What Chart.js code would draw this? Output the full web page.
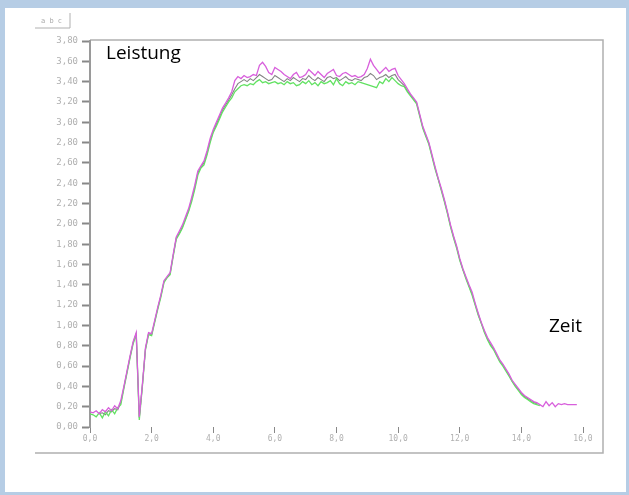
<!DOCTYPE html>
<html>
<head>
<meta charset="utf-8">
<script src="https://cdn.jsdelivr.net/npm/chart.js@4"></script>
<style>
  html, body { margin: 0; padding: 0; background: #fff; }
  canvas { display: block; }
</style>
</head>
<body>
<canvas id="myChart" width="629" height="495"></canvas>
<script>
// time axis (Zeit)
var zeit = [
  0.0,0.1,0.2,0.3,0.4,0.5,0.6,0.7,0.8,0.9,
  1.0,1.1,1.2,1.3,1.4,1.5,1.6,1.7,1.8,1.9,
  2.0,2.1,2.2,2.3,2.4,2.5,2.6,2.7,2.8,2.9,
  3.0,3.1,3.2,3.3,3.4,3.5,3.6,3.7,3.8,3.9,
  4.0,4.1,4.2,4.3,4.4,4.5,4.6,4.7,4.8,4.9,
  5.0,5.1,5.2,5.3,5.4,5.5,5.6,5.7,5.8,5.9,
  6.0,6.1,6.2,6.3,6.4,6.5,6.6,6.7,6.8,6.9,
  7.0,7.1,7.2,7.3,7.4,7.5,7.6,7.7,7.8,7.9,
  8.0,8.1,8.2,8.3,8.4,8.5,8.6,8.7,8.8,8.9,
  9.0,9.1,9.2,9.3,9.4,9.5,9.6,9.7,9.8,9.9,
  10.0,10.1,10.2,10.3,10.4,10.5,10.6,10.7,10.8,10.9,
  11.0,11.1,11.2,11.3,11.4,11.5,11.6,11.7,11.8,11.9,
  12.0,12.1,12.2,12.3,12.4,12.5,12.6,12.7,12.8,12.9,
  13.0,13.1,13.2,13.3,13.4,13.5,13.6,13.7,13.8,13.9,
  14.0,14.1,14.2,14.3,14.4,14.5,14.6,14.7,14.8,14.9,
  15.0,15.1,15.2,15.3,15.4,15.5,15.6,15.7,15.8
];

// magenta trace
var leistungMagenta = [
  0.15,0.14,0.16,0.13,0.17,0.15,0.19,0.16,0.21,0.18,
  0.26,0.40,0.55,0.70,0.84,0.93,0.10,0.42,0.78,0.93,
  0.92,1.05,1.18,1.30,1.44,1.48,1.52,1.70,1.87,1.93,
  1.99,2.07,2.15,2.26,2.38,2.52,2.57,2.62,2.72,2.84,
  2.93,3.00,3.07,3.14,3.19,3.24,3.30,3.41,3.45,3.43,
  3.46,3.44,3.45,3.47,3.46,3.56,3.59,3.55,3.49,3.47,
  3.54,3.52,3.50,3.47,3.45,3.43,3.47,3.49,3.44,3.45,
  3.47,3.52,3.49,3.46,3.50,3.47,3.44,3.48,3.50,3.52,
  3.46,3.45,3.48,3.49,3.47,3.45,3.46,3.44,3.45,3.47,
  3.53,3.62,3.56,3.52,3.48,3.51,3.54,3.50,3.52,3.53,
  3.46,3.42,3.38,3.33,3.28,3.24,3.20,3.08,2.96,2.88,
  2.80,2.68,2.56,2.45,2.35,2.24,2.12,1.99,1.88,1.78,
  1.66,1.56,1.48,1.40,1.33,1.22,1.12,1.03,0.95,0.88,
  0.83,0.78,0.72,0.66,0.62,0.57,0.52,0.46,0.42,0.38,
  0.34,0.31,0.29,0.27,0.25,0.24,0.22,0.20,0.25,0.21,
  0.24,0.20,0.23,0.22,0.23,0.22,0.22,0.22,0.22
];

// green trace
var leistungGruen = [
  0.13,0.12,0.10,0.14,0.09,0.15,0.11,0.17,0.13,0.19,
  0.22,0.38,0.53,0.68,0.82,0.91,0.07,0.40,0.76,0.91,
  0.90,1.03,1.16,1.28,1.42,1.47,1.50,1.68,1.85,1.90,
  1.96,2.04,2.12,2.22,2.34,2.48,2.55,2.58,2.68,2.80,
  2.90,2.96,3.03,3.10,3.15,3.20,3.24,3.30,3.33,3.36,
  3.37,3.36,3.38,3.37,3.40,3.42,3.39,3.40,3.38,3.39,
  3.40,3.38,3.39,3.37,3.40,3.38,3.39,3.36,3.37,3.40,
  3.38,3.41,3.37,3.39,3.36,3.40,3.38,3.39,3.41,3.37,
  3.43,3.38,3.36,3.40,3.38,3.39,3.37,3.40,3.39,3.38,
  3.37,3.36,3.35,3.34,3.40,3.38,3.43,3.40,3.44,3.41,
  3.38,3.36,3.35,3.30,3.26,3.22,3.18,3.06,2.94,2.86,
  2.78,2.66,2.54,2.44,2.33,2.22,2.10,1.97,1.86,1.76,
  1.64,1.55,1.46,1.38,1.30,1.20,1.10,1.02,0.93,0.86,
  0.80,0.76,0.70,0.64,0.60,0.55,0.50,0.45,0.40,0.36,
  0.32,0.29,0.27,0.25,0.23,0.22,0.21
];

// dark grey trace
var leistungGrau = [
  null,null,null,0.13,0.14,0.12,0.16,0.15,0.18,0.17,
  0.24,0.39,0.54,0.69,0.83,0.92,0.09,0.41,0.77,0.92,
  0.91,1.04,1.17,1.29,1.43,1.47,1.51,1.69,1.86,1.91,
  1.97,2.05,2.13,2.24,2.36,2.50,2.56,2.60,2.70,2.82,
  2.91,2.98,3.05,3.12,3.17,3.22,3.27,3.33,3.38,3.40,
  3.42,3.40,3.43,3.41,3.44,3.47,3.45,3.43,3.41,3.42,
  3.46,3.44,3.42,3.40,3.43,3.41,3.44,3.42,3.40,3.43,
  3.42,3.46,3.43,3.41,3.44,3.42,3.40,3.44,3.45,3.43,
  3.44,3.41,3.43,3.45,3.42,3.41,3.43,3.42,3.41,3.44,
  3.45,3.48,3.46,3.42,3.44,3.45,3.47,3.44,3.46,3.47,
  3.42,3.39,3.36,3.31,3.27,3.23,3.19,3.07,2.95,2.87,
  2.79,2.67,2.55,2.44,2.34,2.23,2.11,1.98,1.87,1.77,
  1.65,1.55,1.47,1.39,1.31,1.21,1.11,1.02,0.94,0.87,
  0.81,0.77,0.71,0.65,0.61,0.56,0.51,0.45,0.41,0.37,
  0.33,0.30,0.28,0.26,0.24,0.23
];

var xMin = 0, xMax = 16, xStep = 2;
var yMin = 0, yMax = 3.8, yStep = 0.2;

function points(values) {
  return values.map(function(v, i) { return { x: zeit[i], y: v }; });
}

// frame, blue border and text labels around the plot
var decor = {
  id: 'decor',
  beforeDraw: function(chart) {
    var c = chart.ctx;
    c.save();
    c.fillStyle = '#b6cde5';
    c.fillRect(0, 0, 629, 495);
    c.fillStyle = '#ffffff';
    c.fillRect(5, 8, 621, 484);
    c.strokeStyle = '#b0b0b0';
    c.lineWidth = 1.5;
    c.beginPath();
    c.moveTo(90, 40); c.lineTo(603, 40); c.lineTo(603, 453); c.lineTo(35, 453);
    c.stroke();
    c.lineWidth = 1;
    c.beginPath();
    c.moveTo(35, 28); c.lineTo(70, 28); c.lineTo(70, 13);
    c.stroke();
    c.fillStyle = '#aaaaaa';
    c.font = '7px "DejaVu Sans Mono"';
    c.fillText('a b c', 41, 23);
    c.restore();
  },
  afterDraw: function(chart) {
    var c = chart.ctx;
    c.save();
    c.fillStyle = '#000000';
    c.font = '19px "Open Sans"';
    c.fillText('Leistung', 106, 59);
    c.fillText('Zeit', 549, 332);
    c.restore();
  }
};

var ctx = document.getElementById('myChart');
var myChart = new Chart(ctx, {
  type: 'line',
  data: {
    datasets: [{
      label: 'Magenta',
      data: points(leistungMagenta),
      borderColor: '#d85fdc',
      borderWidth: 1.3,
      pointRadius: 0,
      tension: 0
    }, {
      label: 'Grün',
      data: points(leistungGruen),
      borderColor: '#62e262',
      borderWidth: 1.3,
      pointRadius: 0,
      tension: 0
    }, {
      label: 'Grau',
      data: points(leistungGrau),
      borderColor: 'rgba(90, 90, 90, 0.75)',
      borderWidth: 1.1,
      pointRadius: 0,
      tension: 0
    }]
  },
  options: {
    responsive: false,
    animation: false,
    devicePixelRatio: 1,
    layout: { padding: { left: 0, top: 41, right: 46, bottom: 0 } },
    plugins: {
      legend: { display: false },
      tooltip: { enabled: false }
    },
    scales: {
      x: {
        type: 'linear',
        min: xMin,
        max: xMax,
        afterFit: function(scale) { scale.height = 68; },
        border: { display: false },
        grid: { drawOnChartArea: false, drawTicks: true, tickLength: 6, tickColor: '#888' },
        ticks: {
          stepSize: xStep,
          autoSkip: false,
          maxRotation: 0,
          padding: 1,
          color: '#b0b0b0',
          font: { family: 'DejaVu Sans Mono', size: 8 },
          callback: function(v) { return v.toFixed(1).replace('.', ','); }
        }
      },
      y: {
        min: yMin,
        max: yMax,
        afterFit: function(scale) { scale.width = 90; },
        border: { display: true, color: '#9a9a9a', width: 2 },
        grid: { drawOnChartArea: false, drawTicks: true, tickLength: 8, tickColor: '#888', tickWidth: 2 },
        ticks: {
          stepSize: yStep,
          padding: 4,
          color: '#b0b0b0',
          font: { family: 'DejaVu Sans Mono', size: 9 },
          callback: function(v) { return v.toFixed(2).replace('.', ','); }
        }
      }
    }
  },
  plugins: [decor]
});
</script>
</body>
</html>
